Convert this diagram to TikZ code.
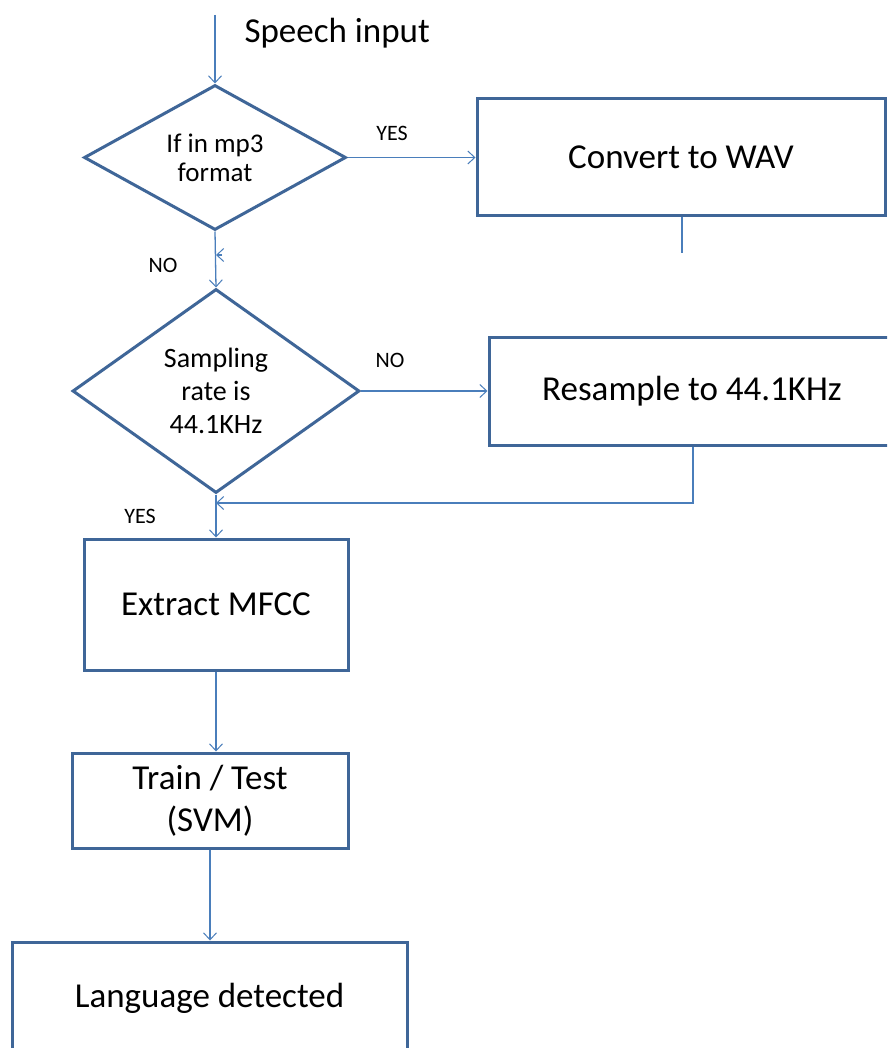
\documentclass[tikz,border=0pt]{standalone}
\usepackage{fontspec}
\setmainfont{Carlito}
\usetikzlibrary{shapes.geometric,arrows.meta}
\definecolor{boxline}{HTML}{3F6698}
\definecolor{linkline}{HTML}{4A7EBB}
\tikzset{
  stepbox/.style={draw=boxline,line width=3pt,rectangle,inner sep=0pt,align=center,
                  font=\fontsize{35}{42}\selectfont},
  decision/.style={draw=boxline,line width=3pt,diamond,inner sep=0pt,align=center},
  link/.style={draw=linkline,line width=1.3pt,-{Straight Barb[length=7pt,width=13pt,line width=1pt]}},
  plainlink/.style={draw=linkline,line width=1.3pt},
  tag/.style={font=\fontsize{22}{25}\selectfont}
}
\begin{document}
\begin{tikzpicture}[x=1pt,y=-1pt]
\clip (0,0) rectangle (887,1048);
\fill[white] (0,0) rectangle (887,1048);

% decisions
\node[decision,minimum width=262pt,minimum height=145pt,font=\fontsize{27}{29}\selectfont]
  (mp3) at (215,157.5) {If in mp3\\format};
\node[decision,minimum width=287pt,minimum height=204pt,font=\fontsize{28}{33}\selectfont]
  (rate) at (216,391) {Sampling\\rate is\\44.1KHz};

% process boxes
\node[stepbox,minimum width=408pt,minimum height=117pt] (wav) at (681,157.5) {Convert to WAV};
\node[stepbox,minimum width=406pt,minimum height=108pt] (resample) at (692,391) {Resample to 44.1KHz};
\node[stepbox,minimum width=264pt,minimum height=131pt] (mfcc) at (216,604.5) {Extract MFCC};
\node[stepbox,minimum width=276pt,minimum height=95pt] (svm) at (210,800.5) {Train / Test\\(SVM)};
\node[stepbox,minimum width=395pt,minimum height=112pt] (lang) at (209.5,998) {Language detected};

% free ends
\coordinate (start) at (215,15);
\coordinate (wavend) at (682,253);
\coordinate (join) at (216,255);
\coordinate (loop) at (216,503);

% input
\node[anchor=west,font=\fontsize{35}{42}\selectfont] (input) at (241,33) {Speech input};
\draw[link] (start) -- (mp3.north);

% first decision
\draw[link] (mp3.east) -- (mp3.east -| wav.west);
\node[tag] (yes1) at (392,133) {YES};
\draw[plainlink] (wav.south -| wavend) -- (wavend);
\draw[link] ([xshift=6pt]join) -- (join);
\draw[link] (mp3.south) -- (rate.north);
\node[tag] (no1) at (163,265) {NO};

% second decision
\draw[link] (rate.east) -- (rate.east -| resample.west);
\node[tag] (no2) at (390,360) {NO};
\draw[link] (resample.south -| 693,0) |- (loop);
\draw[link] (rate.south) -- (mfcc.north);
\node[tag] (yes2) at (140,516) {YES};

% pipeline
\draw[link] (mfcc.south) -- (mfcc.south |- svm.north);
\draw[link] (svm.south) -- (svm.south |- lang.north);
\end{tikzpicture}
\end{document}
